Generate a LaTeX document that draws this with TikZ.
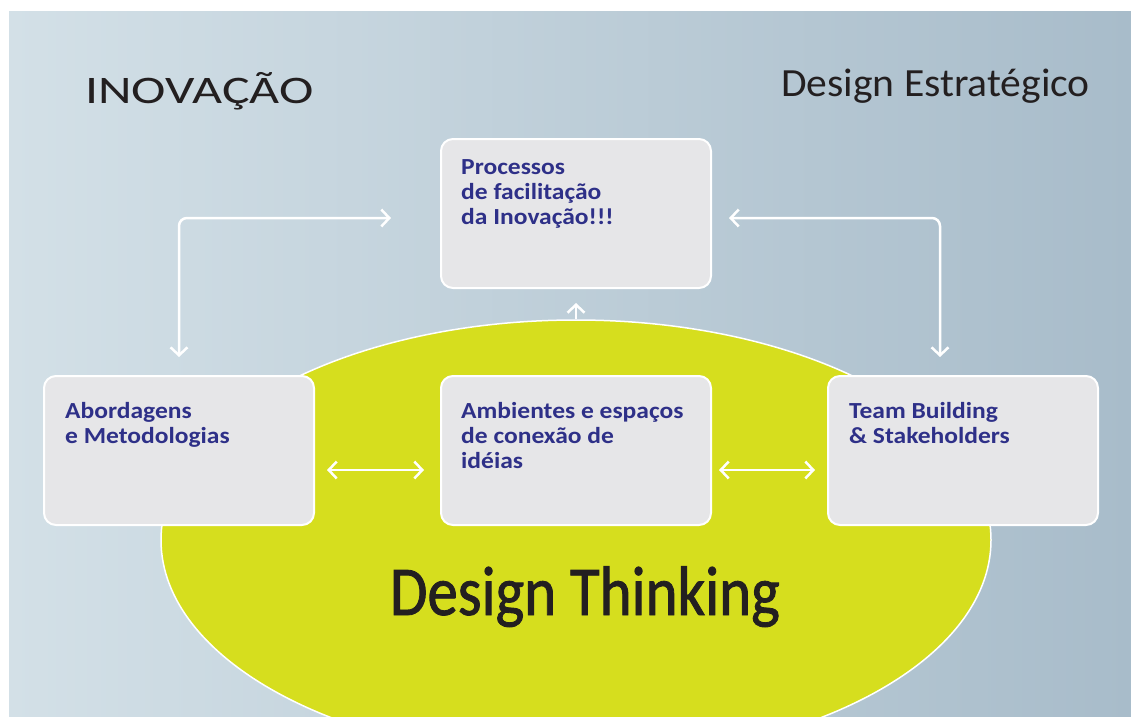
\documentclass[tikz,border=0pt]{standalone}
\usepackage{fontspec}
\setmainfont{Carlito}
\newfontfamily\inovfont[FakeStretch=1.33]{Carlito}
\newfontfamily\estrfont[FakeStretch=1.04]{Carlito}
\newfontfamily\dtfont[FakeStretch=0.87,FakeBold=1.2]{Carlito}
\newfontfamily\labelfont[FakeStretch=1.11]{Carlito}
\usetikzlibrary{arrows.meta,shapes.geometric,calc}
\definecolor{bgleft}{RGB}{211,224,231}
\definecolor{bgright}{RGB}{168,188,202}
\definecolor{dtyellow}{RGB}{214,222,30}
\definecolor{boxgray}{RGB}{230,230,232}
\definecolor{labelblue}{RGB}{46,48,136}
\definecolor{darktext}{RGB}{35,31,32}
\tikzset{
  infobox/.style={rectangle, rounded corners=12pt, fill=boxgray, draw=white,
    line width=2pt, minimum width=270pt, minimum height=149pt, inner sep=0pt},
  boxlabel/.style={anchor=north west, inner sep=0pt, align=left, text=labelblue,
    font=\labelfont\bfseries\fontsize{23}{25}\selectfont},
  conn/.style={draw=white, line width=2.5pt,
    {Straight Barb[length=8pt,width=17pt,line width=2.5pt]}-{Straight Barb[length=8pt,width=17pt,line width=2.5pt]}},
  upconn/.style={draw=white, line width=2.5pt,
    -{Straight Barb[length=8pt,width=17pt,line width=2.5pt]}},
}
\begin{document}
\begin{tikzpicture}[x=1pt,y=-1pt]
\useasboundingbox (0,0) rectangle (1131,716);
% background panel
\shade[left color=bgleft, right color=bgright] (9,11) rectangle (1131,716);
% Design Thinking ellipse, clipped at the panel edge
\begin{scope}
  \clip (9,11) rectangle (1131,716);
  \node[ellipse, fill=dtyellow, draw=white, line width=1.5pt,
        minimum width=830pt, minimum height=440pt, inner sep=0pt] (dt) at (576,540) {};
\end{scope}
% boxes
\node[infobox] (top) at (576,213.5) {};
\node[infobox] (lft) at (179,450.5) {};
\node[infobox] (mid) at (576,450.5) {};
\node[infobox] (rgt) at (963,450.5) {};
% box labels
\node[boxlabel] (toplbl) at ($(top.north west)+(21,21)$) {Processos\\de facilitação\\da Inovação!!!};
\node[boxlabel] (lftlbl) at ($(lft.north west)+(22,27)$) {Abordagens\\e Metodologias};
\node[boxlabel] (midlbl) at ($(mid.north west)+(21,27)$) {Ambientes e espaços\\de conexão de\\idéias};
\node[boxlabel] (rgtlbl) at ($(rgt.north west)+(22,27)$) {Team Building\\\& Stakeholders};
% connectors
\draw[conn, rounded corners=8pt, shorten <=18pt, shorten >=49pt]
  (lft.north) |- ([yshift=-4.5pt]top.west);
\draw[conn, rounded corners=8pt, shorten <=17pt, shorten >=18pt]
  ([yshift=-4.5pt]top.east) -| ([xshift=-23pt]rgt.north);
\draw[upconn, shorten >=14pt] (dt.north) -- (top.south);
\draw[conn, shorten <=12pt, shorten >=16pt] ([yshift=-19.5pt]lft.east) -- ([yshift=-19.5pt]mid.west);
\draw[conn, shorten <=7pt, shorten >=12pt] ([yshift=-19.5pt]mid.east) -- ([yshift=-19.5pt]rgt.west);
% titles
\node[anchor=base west, inner sep=0pt, text=darktext, font=\inovfont\fontsize{39}{39}\selectfont] (inov) at (85,103) {INOVAÇÃO};
\node[anchor=base east, inner sep=0pt, text=darktext, font=\estrfont\fontsize{40}{40}\selectfont] (estr) at (1090,96) {Design Estratégico};
\node[anchor=base, inner sep=0pt, text=darktext, font=\dtfont\fontsize{70}{70}\selectfont] (dtlbl) at (585,615) {Design Thinking};
\end{tikzpicture}
\end{document}
